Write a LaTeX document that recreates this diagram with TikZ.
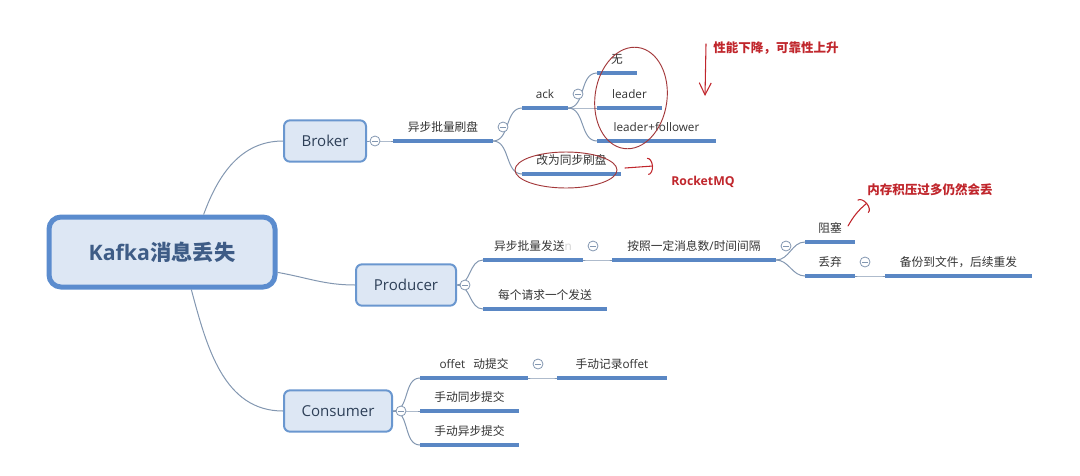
\documentclass[tikz,border=0pt]{standalone}
\usepackage{fontspec}
\setmainfont{Open Sans}
\newfontfamily\cjk{Noto Sans CJK SC}
\usetikzlibrary{arrows.meta}
\definecolor{barc}{HTML}{5A87C4}
\definecolor{linec}{HTML}{8397B1}
\definecolor{boxc}{HTML}{6A97CF}
\definecolor{boxf}{HTML}{DDE7F4}
\definecolor{rootc}{HTML}{5B8CCE}
\definecolor{roott}{HTML}{3E5C86}
\definecolor{boxt}{HTML}{2E4058}
\definecolor{txt}{HTML}{333333}
\definecolor{notec}{HTML}{C0262C}
\definecolor{ringc}{HTML}{A3383A}
\definecolor{ghost}{HTML}{D2D2D2}
\newcommand{\leaf}[5]{\coordinate (#1w) at (#2,#4); \coordinate (#1e) at (#3,#4);
  \draw[bar] (#1w) -- (#1e); \node[lbl] (#1) at ({(#2+#3)/2},{#4+10}) {#5}; }
\newcommand{\fold}[1]{\node[fold] (f#1) at ([shift={(10,14)}]#1e) {}; }
\newcommand{\bough}[2]{\draw[conn] (#1) to[out=0,in=180] (#2w); }

\begin{document}
\begin{tikzpicture}[x=0.75pt,y=0.75pt,
  bar/.style={barc,line width=3pt},
  conn/.style={linec,line width=0.75pt},
  lbl/.style={anchor=base,inner sep=0pt,text=txt,font=\fontsize{8.8}{10}\selectfont},
  topic/.style={draw=boxc,fill=boxf,line width=1.5pt,rounded corners=4.5pt,minimum height=31pt,text=boxt,font=\fontsize{11.3}{13}\selectfont},
  fold/.style={circle,draw=linec,fill=white,line width=0.6pt,minimum size=7.5pt,inner sep=0pt,
    path picture={\draw[linec,line width=0.6pt] ([xshift=-2pt]path picture bounding box.center) -- ([xshift=2pt]path picture bounding box.center);}},
  note/.style={text=notec,font=\bfseries\fontsize{9.4}{11}\selectfont},
  ring/.style={draw=ringc,line width=0.7pt},
  hand/.style={draw=notec,line width=0.8pt,line cap=round,-{Arc Barb[length=4pt,width=13pt]}}]
  \useasboundingbox (0,0) rectangle (1080,-475);
  \node[topic,draw=rootc,line width=3.75pt,rounded corners=9pt,minimum width=169.5pt,minimum height=52.5pt,text=roott,font=\bfseries\fontsize{16}{19}\selectfont] (root) at (162,-252) {Kafka{\cjk 消息丢失}};
  \node[topic,minimum width=61.5pt] (broker) at (325,-141) {Broker};
  \node[topic,minimum width=75pt] (producer) at (406,-285) {Producer};
  \node[topic,minimum width=81pt] (consumer) at (338,-411) {Consumer};
  \draw[conn] (root.42) to[out=70,in=180] (broker.west);
  \draw[conn] (root.350) to[out=-10,in=180] (producer.west);
  \draw[conn] (root.308) to[out=-75,in=180] (consumer.west);

  \leaf{bk}{393}{493}{-141}{\cjk 异步批量刷盘}
  \leaf{ack}{522}{568}{-108}{ack}
  \leaf{none}{597}{637}{-73}{\cjk 无}
  \leaf{ld}{597}{662}{-108}{leader}
  \leaf{lf}{597}{716}{-141}{leader+follower}
  \leaf{sync}{522}{621}{-174}{\cjk 改为同步刷盘}
  \leaf{async}{483}{583}{-260}{{\cjk 异步批量发送}\textcolor{ghost}{n}}
  \leaf{batch}{612}{776}{-260}{{\cjk 按照一定消息数}/{\cjk 时间间隔}}
  \leaf{block}{805}{855}{-242}{\cjk 阻塞}
  \leaf{drop}{805}{855}{-276}{\cjk 丢弃}
  \leaf{backup}{885}{1032}{-276}{\cjk 备份到文件，后续重发}
  \leaf{each}{483}{607}{-309}{\cjk 每个请求一个发送}
  \leaf{auto}{420}{528}{-378}{offet\hspace{6pt}{\cjk 动提交}}
  \leaf{manual}{557}{667}{-378}{{\cjk 手动记录}offet}
  \leaf{msync}{420}{519}{-411}{\cjk 手动同步提交}
  \leaf{masync}{420}{519}{-445}{\cjk 手动异步提交}

  \bough{broker.east}{bk}
  \bough{bke}{ack} \bough{bke}{sync}
  \bough{acke}{none} \bough{acke}{ld} \bough{acke}{lf}
  \bough{producer.east}{async} \bough{producer.east}{each}
  \bough{asynce}{batch}
  \bough{batche}{block} \bough{batche}{drop}
  \bough{drope}{backup}
  \bough{consumer.east}{auto} \bough{consumer.east}{msync} \bough{consumer.east}{masync}
  \bough{autoe}{manual}

  \node[fold] (fbroker) at ([xshift=6pt]broker.east) {};
  \node[fold] (fproducer) at ([xshift=6pt]producer.east) {};
  \node[fold] (fconsumer) at ([xshift=6pt]consumer.east) {};
  \fold{bk} \fold{ack} \fold{async} \fold{batch} \fold{drop} \fold{auto}

  \node[note] (perf) at (776,-48) {\cjk 性能下降，可靠性上升};
  \node[note,font=\bfseries\fontsize{9.2}{11}\selectfont] (rmq) at (703,-182) {RocketMQ};
  \node[note] (mem) at (930,-190) {\cjk 内存积压过多仍然会丢};
  \draw[ring] (631,-98) ellipse [x radius=36, y radius=51, rotate=-8];
  \draw[ring] (566,-170) ellipse [x radius=51, y radius=18];
  \coordinate (d1) at (706,-44); \coordinate (d2) at (705,-96);
  \draw[hand,-{Straight Barb[length=9pt,width=9pt]}] (d1) -- (d2);
  \coordinate (r1) at (625,-168); \coordinate (r2) at (653,-166);
  \draw[hand] (r1) -- (r2);
  \coordinate (m1) at (848,-226); \coordinate (m2) at (867,-203);
  \draw[hand] (m1) to[bend left=10] (m2);
\end{tikzpicture}
\end{document}
